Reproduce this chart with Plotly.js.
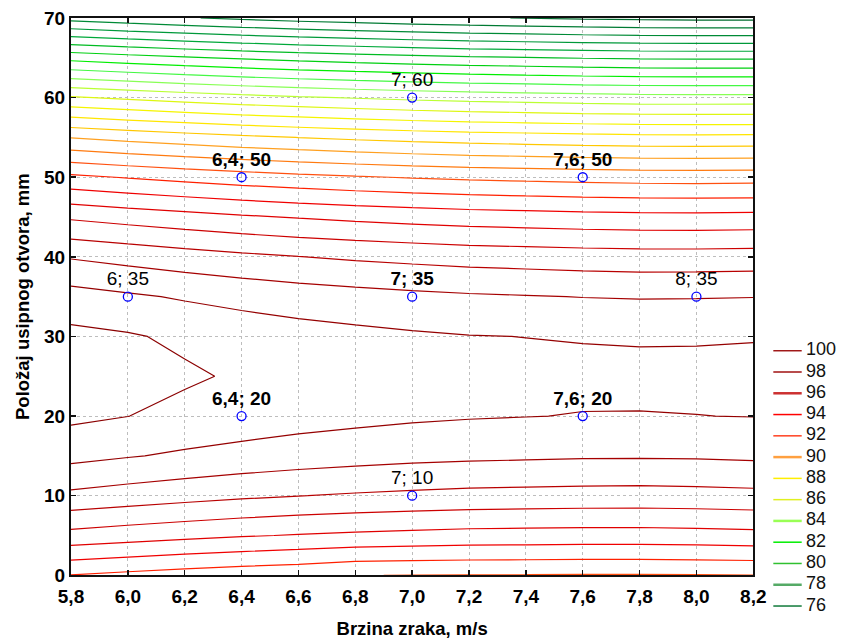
<!DOCTYPE html>
<html><head><meta charset="utf-8">
<script src="https://cdn.plot.ly/plotly-3.0.1.min.js"></script>
<style>html,body{margin:0;padding:0;background:#fff}#chart{width:845px;height:639px}</style>
</head><body><div id="chart"></div>
<script>
// ---- data ----
const xGrid = [5.8, 6.0, 6.2, 6.4, 6.6, 6.8, 7.0, 7.2, 7.4, 7.6, 7.8, 8.0, 8.2];
const yGrid = [0, 5, 10, 15, 20, 25, 30, 35, 40, 45, 50, 55, 60, 65, 70];
const zGrid = [
  [92.97, 92.76, 92.57, 92.40, 92.26, 92.02, 91.98, 91.97, 91.96, 91.94, 91.94, 91.96, 91.99],
  [95.67, 95.46, 95.26, 95.08, 94.94, 94.82, 94.73, 94.65, 94.62, 94.59, 94.59, 94.63, 94.70],
  [97.78, 97.56, 97.36, 97.17, 97.02, 96.90, 96.80, 96.72, 96.68, 96.65, 96.63, 96.67, 96.73],
  [99.29, 99.06, 98.86, 98.67, 98.51, 98.38, 98.27, 98.19, 98.15, 98.10, 98.09, 98.11, 98.17],
  [100.21, 100.01, 99.71, 99.57, 99.40, 99.27, 99.15, 99.07, 99.02, 98.97, 98.97, 98.99, 99.02],
  [100.53, 100.29, 100.145, 99.87, 99.70, 99.56, 99.44, 99.35, 99.29, 99.23, 99.20, 99.22, 99.27],
  [100.26, 100.10, 99.81, 99.58, 99.40, 99.26, 99.13, 99.03, 98.99, 98.95, 98.93, 98.93, 98.95],
  [99.39, 99.14, 98.90, 98.69, 98.51, 98.36, 98.23, 98.12, 98.05, 97.98, 97.94, 97.95, 97.98],
  [97.92, 97.67, 97.43, 97.21, 97.02, 96.86, 96.73, 96.61, 96.54, 96.47, 96.42, 96.42, 96.45],
  [95.86, 95.60, 95.36, 95.13, 94.94, 94.77, 94.63, 94.51, 94.43, 94.35, 94.30, 94.29, 94.32],
  [93.21, 92.94, 92.69, 92.46, 92.26, 92.09, 91.94, 91.82, 91.73, 91.65, 91.59, 91.57, 91.59],
  [89.96, 89.68, 89.43, 89.19, 88.99, 88.81, 88.65, 88.52, 88.43, 88.34, 88.28, 88.26, 88.27],
  [86.11, 85.83, 85.57, 85.33, 85.12, 84.94, 84.77, 84.64, 84.54, 84.44, 84.37, 84.35, 84.35],
  [81.67, 81.39, 81.12, 80.87, 80.65, 80.47, 80.30, 80.15, 80.05, 79.95, 79.87, 79.84, 79.84],
  [76.64, 76.34, 76.07, 75.82, 75.59, 75.40, 75.23, 75.08, 74.97, 74.86, 74.78, 74.74, 74.73]
];
const levelStart = 75, levelEnd = 100, levelStep = 1;
const levelColors = ['#006b2e','#007a33','#008a36','#00993a','#00a83a','#00bb22','#00d011','#00ee00',
  '#44f844','#88ff55','#bbff33','#ddf711','#f5f500','#ffe600','#ffc800','#ffa020','#ff7a10','#ff5010',
  '#ff2000','#f00000','#e00000','#cc0000','#b80000','#a50000','#950000','#8b0000'];

const pointX = [6.0, 6.4, 7.0, 7.6, 8.0, 7.0, 6.4, 7.6, 7.0];
const pointY = [35, 50, 60, 50, 35, 35, 20, 20, 10];
const pointLabels = ['6; 35', '6,4; 50', '7; 60', '7,6; 50', '8; 35', '7; 35', '6,4; 20', '7,6; 20', '7; 10'];
const pointRepeated = [false, true, false, true, false, true, true, true, false];

const legendLevels = [100, 98, 96, 94, 92, 90, 88, 86, 84, 82, 80, 78, 76];
const legendColors = ['#a01818', '#a01010', '#cc3030', '#ff0000', '#ff4020', '#ffa040', '#ffee00',
  '#e0f020', '#99ff55', '#00ee00', '#30c030', '#55aa66', '#107a3a'];
const legendWidths = [1.5, 1.5, 2.5, 1.5, 1.5, 2.5, 1.5, 1.5, 2.5, 1.5, 1.5, 2.5, 1.5];

const xTitle = 'Brzina zraka, m/s';
const yTitle = 'Položaj usipnog otvora, mm';

// ---- build ----
const FONT = 'Arial, "Liberation Sans", sans-serif';
const colorscale = levelColors.map((c, i) => [i / (levelColors.length - 1), c]);

const traces = [];
traces.push({
  type: 'contour', x: xGrid, y: yGrid, z: zGrid,
  contours: {coloring: 'lines', start: levelStart, end: levelEnd, size: levelStep, showlabels: false},
  colorscale: colorscale, showscale: false, line: {width: 1.2, smoothing: 0},
  hoverinfo: 'skip', xaxis: 'x', yaxis: 'y'
});

function pointsTrace(bold) {
  const idx = pointX.map((_, i) => i).filter(i => pointRepeated[i] === bold);
  return {
    type: 'scatter', mode: 'markers+text',
    x: idx.map(i => pointX[i]), y: idx.map(i => pointY[i]), text: idx.map(i => pointLabels[i]),
    textposition: 'top center',
    textfont: {family: FONT, size: 19, color: '#000', weight: bold ? 'bold' : 'normal'},
    marker: {symbol: 'circle-open', size: 9, color: '#0000ff', line: {width: 1.3, color: '#0000ff'}},
    hoverinfo: 'skip', xaxis: 'x', yaxis: 'y', cliponaxis: false
  };
}
traces.push(pointsTrace(false));
traces.push(pointsTrace(true));

legendLevels.forEach((L, i) => {
  traces.push({
    type: 'scatter', mode: 'lines', x: [0.3, 28.7], y: [L, L],
    line: {color: legendColors[i], width: legendWidths[i]},
    hoverinfo: 'skip', xaxis: 'x2', yaxis: 'y2'
  });
});
traces.push({
  type: 'scatter', mode: 'text', x: legendLevels.map(() => 33), y: legendLevels,
  text: legendLevels.map(String), textposition: 'middle right',
  textfont: {family: FONT, size: 18, color: '#111'},
  hoverinfo: 'skip', xaxis: 'x2', yaxis: 'y2', cliponaxis: false
});

const axisCommon = {
  showline: true, linecolor: '#111', linewidth: 2, mirror: 'ticks',
  ticks: 'inside', ticklen: 5, tickwidth: 1.5, tickcolor: '#111',
  showgrid: true, gridcolor: '#bdbdbd', griddash: 'dot', gridwidth: 1,
  zeroline: false, fixedrange: true
};

const layout = {
  width: 845, height: 639,
  margin: {l: 71, r: 0, t: 18, b: 30},
  paper_bgcolor: '#fff', plot_bgcolor: '#fff',
  separators: ', ',
  showlegend: false,
  font: {family: FONT, color: '#000'},
  xaxis: Object.assign({}, axisCommon, {
    domain: [0, 0.8815], range: [5.8, 8.2], dtick: 0.2, tick0: 5.8, tickformat: '.1f',
    ticklabelstandoff: 3,
    tickfont: {family: FONT, size: 19, weight: 'bold', color: '#000'},
    title: {text: xTitle, font: {family: FONT, size: 18.5, weight: 'bold', color: '#000'}, standoff: 22},
    anchor: 'y'
  }),
  yaxis: Object.assign({}, axisCommon, {
    domain: [0.057, 1], range: [0, 70], dtick: 10, tick0: 0,
    tickfont: {family: FONT, size: 19, weight: 'bold', color: '#000'},
    title: {text: yTitle, font: {family: FONT, size: 18.5, weight: 'bold', color: '#000'}, standoff: 10},
    anchor: 'x'
  }),
  xaxis2: {domain: [0.907, 1], range: [0, 72], visible: false, anchor: 'y2', fixedrange: true},
  yaxis2: {domain: [0, 1], range: [75.72, 131.28], visible: false, anchor: 'x2', fixedrange: true}
};

Plotly.newPlot('chart', traces, layout, {displayModeBar: false, staticPlot: true});
</script>
</body></html>
